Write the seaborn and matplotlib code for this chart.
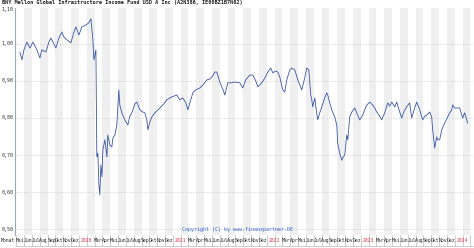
import matplotlib
matplotlib.use("Agg")
import matplotlib.pyplot as plt
import matplotlib.transforms as mtransforms
import seaborn as sns
import numpy as np

title = "BNY Mellon Global Infrastructure Income Fund USD A Inc (A2N386, IE00BZ1B7N62)"
copyright_text = "Copyright (C) by www.finanzpartner.DE"
month_names = ["Jan", "Feb", "Mär", "Apr", "Mai", "Jun", "Jul", "Aug", "Sep", "Okt", "Nov", "Dez"]
y_ticks = [0.5, 0.6, 0.7, 0.8, 0.9, 1.0, 1.1]

# time as decimal year
t = [2019.372, 2019.394, 2019.415, 2019.447, 2019.479, 2019.511, 2019.553, 2019.585, 2019.606, 2019.649,
     2019.681, 2019.702, 2019.755, 2019.787, 2019.819, 2019.840, 2019.872, 2019.915, 2019.947, 2019.968,
     2020.000, 2020.032, 2020.074, 2020.106, 2020.128, 2020.149, 2020.160, 2020.181, 2020.191, 2020.202,
     2020.213, 2020.223, 2020.234, 2020.245, 2020.255, 2020.277, 2020.298, 2020.308, 2020.330, 2020.351,
     2020.362, 2020.383, 2020.404, 2020.425, 2020.436, 2020.457, 2020.489, 2020.521, 2020.542, 2020.564,
     2020.596, 2020.617, 2020.649, 2020.681, 2020.702, 2020.723, 2020.734, 2020.755, 2020.777, 2020.808,
     2020.862, 2020.904, 2020.936, 2020.989, 2021.042, 2021.074, 2021.106, 2021.138, 2021.160, 2021.181,
     2021.213, 2021.245, 2021.287, 2021.330, 2021.362, 2021.394, 2021.425, 2021.447, 2021.468, 2021.500,
     2021.532, 2021.553, 2021.585, 2021.628, 2021.659, 2021.713, 2021.745, 2021.776, 2021.819, 2021.851,
     2021.883, 2021.904, 2021.947, 2021.979, 2022.011, 2022.042, 2022.064, 2022.096, 2022.117, 2022.138,
     2022.170, 2022.191, 2022.213, 2022.245, 2022.266, 2022.298, 2022.330, 2022.351, 2022.372, 2022.404,
     2022.425, 2022.447, 2022.468, 2022.479, 2022.489, 2022.511, 2022.521, 2022.542, 2022.564, 2022.596,
     2022.617, 2022.638, 2022.649, 2022.670, 2022.691, 2022.723, 2022.745, 2022.755, 2022.776, 2022.798,
     2022.808, 2022.830, 2022.851, 2022.862, 2022.883, 2022.904, 2022.936, 2022.957, 2022.989, 2023.021,
     2023.042, 2023.064, 2023.096, 2023.128, 2023.149, 2023.170, 2023.202, 2023.223, 2023.255, 2023.287,
     2023.308, 2023.330, 2023.362, 2023.383, 2023.415, 2023.436, 2023.457, 2023.489, 2023.521, 2023.542,
     2023.574, 2023.596, 2023.628, 2023.659, 2023.681, 2023.702, 2023.734, 2023.755, 2023.766, 2023.787,
     2023.808, 2023.819, 2023.840, 2023.862, 2023.893, 2023.925, 2023.947, 2023.968, 2023.979, 2024.000,
     2024.021, 2024.053, 2024.085, 2024.106, 2024.138]

price = [0.978, 0.957, 0.984, 1.005, 0.989, 1.005, 0.984, 0.962, 0.984, 0.978,
         1.005, 1.016, 0.989, 1.016, 1.032, 1.019, 1.011, 1.003, 1.032, 1.046,
         1.024, 1.046, 1.051, 1.057, 1.068, 1.011, 0.957, 0.984, 0.695, 0.705,
         0.619, 0.592, 0.673, 0.641, 0.714, 0.741, 0.695, 0.754, 0.727, 0.722,
         0.746, 0.754, 0.781, 0.876, 0.835, 0.814, 0.795, 0.781, 0.805, 0.814,
         0.838, 0.843, 0.822, 0.816, 0.814, 0.795, 0.768, 0.789, 0.803, 0.814,
         0.827, 0.838, 0.849, 0.857, 0.862, 0.849, 0.854, 0.841, 0.822, 0.841,
         0.868, 0.876, 0.881, 0.892, 0.903, 0.905, 0.914, 0.924, 0.924, 0.897,
         0.878, 0.862, 0.895, 0.895, 0.897, 0.895, 0.881, 0.903, 0.916, 0.916,
         0.900, 0.884, 0.895, 0.908, 0.924, 0.935, 0.922, 0.927, 0.924, 0.911,
         0.876, 0.870, 0.903, 0.930, 0.935, 0.930, 0.903, 0.889, 0.876, 0.908,
         0.935, 0.930, 0.862, 0.849, 0.830, 0.854, 0.832, 0.795, 0.814, 0.838,
         0.854, 0.868, 0.862, 0.841, 0.822, 0.803, 0.781, 0.732, 0.705, 0.686,
         0.692, 0.700, 0.754, 0.741, 0.803, 0.816, 0.827, 0.814, 0.795, 0.808,
         0.822, 0.835, 0.843, 0.835, 0.827, 0.816, 0.805, 0.795, 0.814, 0.841,
         0.832, 0.843, 0.830, 0.843, 0.816, 0.800, 0.816, 0.830, 0.841, 0.800,
         0.827, 0.843, 0.822, 0.795, 0.805, 0.808, 0.816, 0.803, 0.768, 0.719,
         0.749, 0.741, 0.741, 0.768, 0.786, 0.803, 0.814, 0.822, 0.835, 0.827,
         0.827, 0.827, 0.800, 0.814, 0.786]

sns.set_theme(style="white")
plt.rcParams["font.family"] = ["DejaVu Sans Mono", "DejaVu Sans"]

W, H = 474, 248
fig = plt.figure(figsize=(W / 100, H / 100), dpi=100)
ax_left, ax_right, ax_top, ax_bot = 15, 473, 8, 235
ax = fig.add_axes([ax_left / W, 1 - ax_bot / H, (ax_right - ax_left) / W, (ax_bot - ax_top) / H])

x0, x1 = 2019.32, 2024.195
y0, y1 = 0.484, 1.097
ax.set_xlim(x0, x1)
ax.set_ylim(y0, y1)

# alternating month bands
months = []
for yr in range(2019, 2025):
    for m in range(1, 13):
        s = yr + (m - 1) / 12
        if s + 1 / 12 > x0 and s < x1:
            months.append((yr, m, s))
for i, (yr, m, s) in enumerate(months):
    if i % 2 == 0:
        ax.axvspan(s, s + 1 / 12, color="#efefef", lw=0, zorder=0)

for yv in y_ticks:
    ax.axhline(yv, color="#cccccc", lw=0.5, ls=(0, (2, 2)), zorder=1)

sns.lineplot(x=t, y=price, ax=ax, color="#3a56a5", linewidth=0.6, zorder=3)

ax.set_xticks([])
ax.set_yticks([])
ax.set_xlabel("")
ax.set_ylabel("")
for side in ["top", "right", "bottom"]:
    ax.spines[side].set_visible(False)
ax.spines["left"].set_color("#9aa6c0")
ax.spines["left"].set_linewidth(0.8)

# y labels
ytrans = mtransforms.blended_transform_factory(ax.transAxes, ax.transData)
for yv in y_ticks:
    va = "top" if yv >= 1.095 else "center"
    ax.text(-0.003, yv, f"{yv:.2f}".replace(".", ","), transform=ytrans,
            ha="right", va=va, fontsize=3.6, color="#333333", clip_on=False)

fig.text(2 / W, 1 - 2.8 / H, title, ha="left", va="center", fontsize=3.8, fontweight="bold", color="#222222")

# bottom month row
trans = mtransforms.blended_transform_factory(ax.transData, fig.transFigure)
row_y = 1 - 240.5 / H
fig.text(1 / W, row_y, "Monat", ha="left", va="center", fontsize=3.4, color="#222222")
for i, (yr, m, s) in enumerate(months):
    if s > x0:
        ax.plot([s, s], [1 - 235 / H, 1 - 246 / H], transform=trans, color="#b8b8b8", lw=0.5, clip_on=False)
    if m == 1:
        cx = s + 1 / 12
        if cx < x1:
            ax.text(cx, row_y, str(yr), transform=trans, ha="center", va="center", fontsize=3.4,
                    color="#e0304a", clip_on=False)
    elif m == 2:
        continue
    else:
        cx = s + 1 / 24
        if x0 < cx < x1 - 0.02:
            ax.text(cx, row_y, month_names[m - 1], transform=trans, ha="center", va="center", fontsize=3.4,
                    color="#222222", clip_on=False)
ax.plot([x0, x1], [1 - 246 / H, 1 - 246 / H], transform=trans, color="#b8b8b8", lw=0.5, clip_on=False)

ax.text(0.485, 0.012, copyright_text, transform=ax.transAxes, ha="center", va="bottom", fontsize=3.6,
        color="#3366cc")

fig.savefig("out.png", dpi=100)
